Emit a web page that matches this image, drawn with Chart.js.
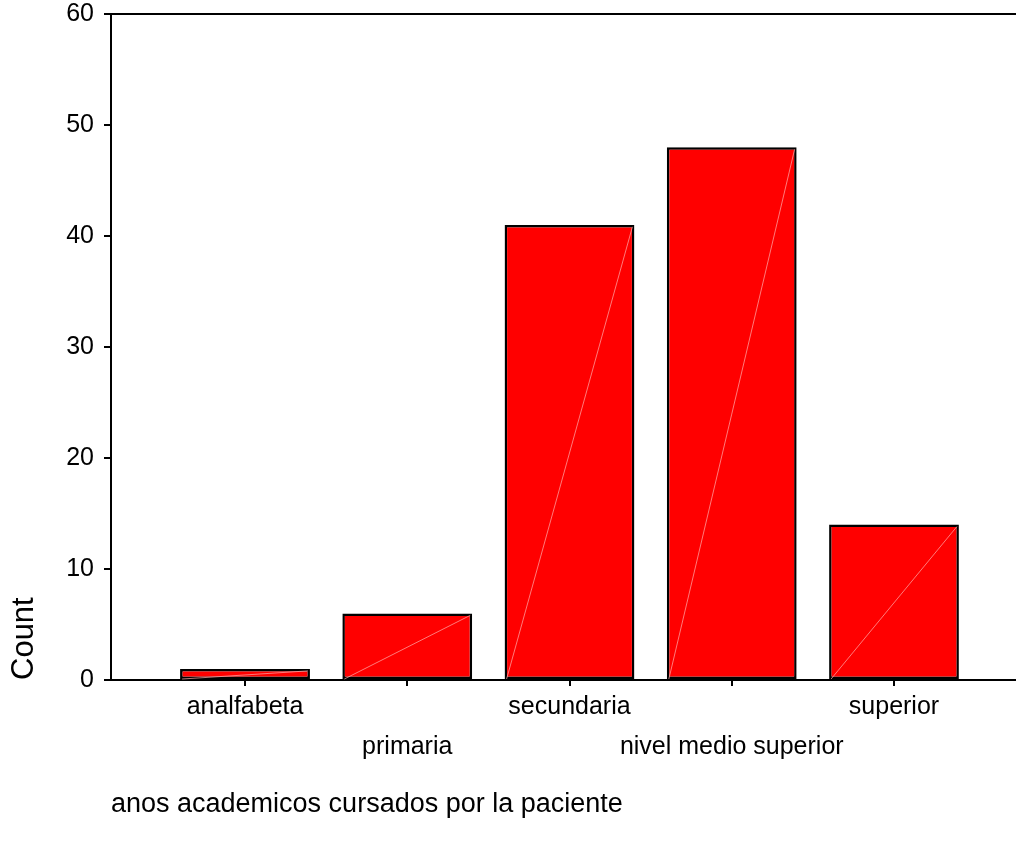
<!DOCTYPE html>
<html>
<head>
<meta charset="utf-8">
<script src="https://cdn.jsdelivr.net/npm/chart.js@4.4.1/dist/chart.umd.min.js"></script>
<style>
  html, body { margin: 0; padding: 0; background: #fff; }
  #wrap { width: 1016px; height: 847px; }
</style>
</head>
<body>
<div id="wrap"><canvas id="chart" width="1016" height="847"></canvas></div>
<script>
const categories = ['analfabeta', 'primaria', 'secundaria', 'nivel medio superior', 'superior'];
const counts = [1, 6, 41, 48, 14];
const yTicks = [0, 10, 20, 30, 40, 50, 60];

// little diagonal seam that the original renderer left inside each bar
const seamPlugin = {
    id: 'seam',
    afterDatasetsDraw(chart) {
        const ctx = chart.ctx;
        const meta = chart.getDatasetMeta(0);
        ctx.save();
        ctx.strokeStyle = 'rgba(255,170,170,0.9)';
        ctx.lineWidth = 0.8;
        meta.data.forEach(bar => {
            const p = bar.getProps(['x', 'y', 'base', 'width'], true);
            ctx.beginPath();
            ctx.moveTo(p.x - p.width / 2 + 2, p.base);
            ctx.lineTo(p.x + p.width / 2 - 2, p.y + 2);
            ctx.stroke();
        });
        ctx.restore();
    }
};

const font = "'Liberation Sans', Arial, sans-serif";

new Chart(document.getElementById('chart'), {
    type: 'bar',
    data: {
        datasets: [{
            data: counts.map((v, i) => ({ x: i, y: v })),
            backgroundColor: '#ff0000',
            borderColor: '#000',
            borderWidth: 2.5,
            borderSkipped: false,
            categoryPercentage: 1,
            barPercentage: 0.8
        }]
    },
    options: {
        responsive: false,
        devicePixelRatio: 1,
        animation: false,
        layout: { padding: { top: 14, right: 0, bottom: 0, left: 0 } },
        plugins: { legend: { display: false }, tooltip: { enabled: false } },
        scales: {
            x: {
                type: 'linear',
                offset: false,
                min: -0.826,
                max: 4.752,
                afterBuildTicks: scale => { scale.ticks = categories.map((c, i) => ({ value: i })); },
                afterFit: scale => { scale.height = 167; scale.paddingLeft = 0; scale.paddingRight = 0; },
                grid: { offset: false, drawOnChartArea: false, color: '#000', lineWidth: 2, tickLength: 6 },
                border: { color: '#000', width: 2 },
                ticks: {
                    autoSkip: false,
                    maxRotation: 0,
                    padding: 1,
                    color: '#000',
                    font: { family: font, size: 25, lineHeight: 1.6 },
                    callback: (v, i) => i % 2 ? ['', categories[v]] : categories[v]
                },
                title: {
                    display: true,
                    text: 'anos academicos cursados por la paciente',
                    align: 'start',
                    color: '#000',
                    font: { family: font, size: 27 },
                    padding: { top: 0, bottom: 26 }
                }
            },
            y: {
                min: 0,
                max: 60,
                afterBuildTicks: scale => { scale.ticks = yTicks.map(v => ({ value: v })); },
                afterFit: scale => { scale.width = 111; scale.paddingTop = 0; scale.paddingBottom = 0; },
                grid: {
                    color: c => c.tick && c.tick.value === 60 ? '#000' : 'rgba(0,0,0,0)',
                    tickColor: '#000',
                    lineWidth: 2,
                    tickLength: 7
                },
                border: { color: '#000', width: 2 },
                ticks: { padding: 10, color: '#000', font: { family: font, size: 25 } },
                title: {
                    display: true,
                    text: 'Count',
                    align: 'start',
                    color: '#000',
                    font: { family: font, size: 31 },
                    padding: { top: 6, bottom: 0 }
                }
            }
        }
    },
    plugins: [seamPlugin]
});
</script>
</body>
</html>
